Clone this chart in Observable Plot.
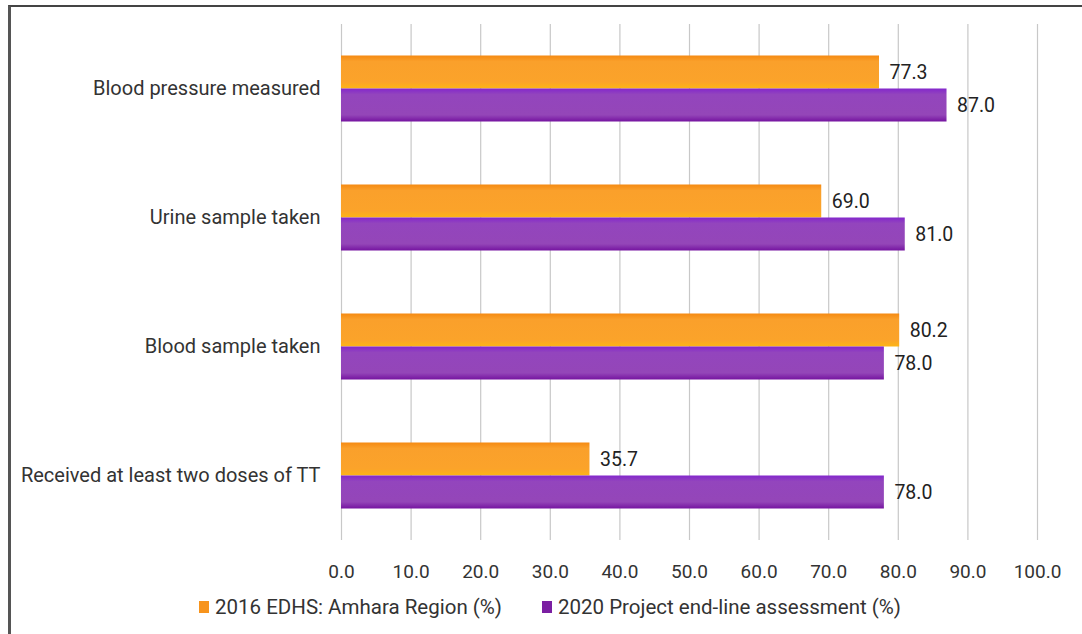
<!DOCTYPE html>
<html>
<head>
<meta charset="utf-8">
<script src="https://cdn.jsdelivr.net/npm/d3@7"></script>
<script src="https://cdn.jsdelivr.net/npm/@observablehq/plot@0.6"></script>
<style>
  html, body { margin: 0; padding: 0; background: #fff; }
  body { position: relative; width: 1082px; height: 634px; overflow: hidden; font-family: Roboto, sans-serif; }
  #frame { position: absolute; left: 8px; top: 5px; width: 1071px; height: 640px;
           border-left: 3px solid #555; border-top: 2px solid #444; border-right: 1px solid #333; pointer-events: none; }
  #legend { position: absolute; top: 595px; left: 199px; font-size: 20.5px; color: #333; display: flex; gap: 40px; line-height: 24px; }
  #legend span.item { display: inline-flex; align-items: center; }
  #legend span.sw { display: inline-block; width: 10px; height: 12px; margin-right: 6px; }
</style>
</head>
<body>
<div id="chart"></div>
<div id="legend"></div>
<div id="frame"></div>
<script>
const categories = ["Blood pressure measured", "Urine sample taken", "Blood sample taken", "Received at least two doses of TT"];
const seriesNames = ["2016 EDHS: Amhara Region (%)", "2020 Project end-line assessment (%)"];
const edhs2016 = [77.3, 69.0, 80.2, 35.7];
const project2020 = [87.0, 81.0, 78.0, 78.0];
const xTicks = [0, 10, 20, 30, 40, 50, 60, 70, 80, 90, 100];
const colors = ["#F7941D", "#7B1FA2"];

const d2016 = categories.map((c, i) => ({category: c, value: edhs2016[i]}));
const d2020 = categories.map((c, i) => ({category: c, value: project2020[i]}));

const band = 129, half = band / 2, barH = 33;

const plot = Plot.plot({
  width: 1082,
  height: 590,
  marginLeft: 341,
  marginRight: 45,
  marginTop: 24,
  marginBottom: 50,
  style: {fontFamily: "Roboto, sans-serif", fontSize: "19px", color: "#333", background: "transparent"},
  x: {domain: [0, 100], ticks: xTicks, tickFormat: d => d.toFixed(1), label: null},
  y: {domain: categories, padding: 0, label: null},
  marks: [
    Plot.gridX(xTicks, {stroke: "#c8c8c8", strokeOpacity: 1, strokeWidth: 1.2}),
    Plot.axisX({ticks: xTicks, tickFormat: d => d.toFixed(1), tickSize: 0, tickPadding: 24, fontSize: 19, label: null}),
    Plot.axisY({tickSize: 0, tickPadding: 21, fontSize: 20, label: null}),
    Plot.barX(d2016, {x: "value", y: "category", fill: "url(#gOrange)", insetTop: half - barH, insetBottom: half}),
    Plot.barX(d2020, {x: "value", y: "category", fill: "url(#gPurple)", insetTop: half, insetBottom: half - barH}),
    Plot.text(d2016, {x: "value", y: "category", text: d => d.value.toFixed(1), textAnchor: "start", dx: 10, dy: -barH / 2, fill: "#222", fontSize: 19.5}),
    Plot.text(d2020, {x: "value", y: "category", text: d => d.value.toFixed(1), textAnchor: "start", dx: 10, dy: barH / 2, fill: "#222", fontSize: 19.5})
  ]
});

const svg = d3.select(plot);
const defs = svg.insert("defs", ":first-child");
const go = defs.append("linearGradient").attr("id", "gOrange").attr("x1", 0).attr("y1", 0).attr("x2", 0).attr("y2", 1);
go.append("stop").attr("offset", "0%").attr("stop-color", "#F58A12");
go.append("stop").attr("offset", "18%").attr("stop-color", "#FAA02B");
go.append("stop").attr("offset", "80%").attr("stop-color", "#FBA32A");
go.append("stop").attr("offset", "100%").attr("stop-color", "#FDB515");
const gp = defs.append("linearGradient").attr("id", "gPurple").attr("x1", 0).attr("y1", 0).attr("x2", 0).attr("y2", 1);
gp.append("stop").attr("offset", "0%").attr("stop-color", "#8327CC");
gp.append("stop").attr("offset", "18%").attr("stop-color", "#9345BD");
gp.append("stop").attr("offset", "80%").attr("stop-color", "#9446B8");
gp.append("stop").attr("offset", "100%").attr("stop-color", "#7514A0");

document.getElementById("chart").appendChild(plot);

const legend = d3.select("#legend");
seriesNames.forEach((name, i) => {
  const item = legend.append("span").attr("class", "item");
  item.append("span").attr("class", "sw").style("background", colors[i]);
  item.append("span").text(name);
});
</script>
</body>
</html>
